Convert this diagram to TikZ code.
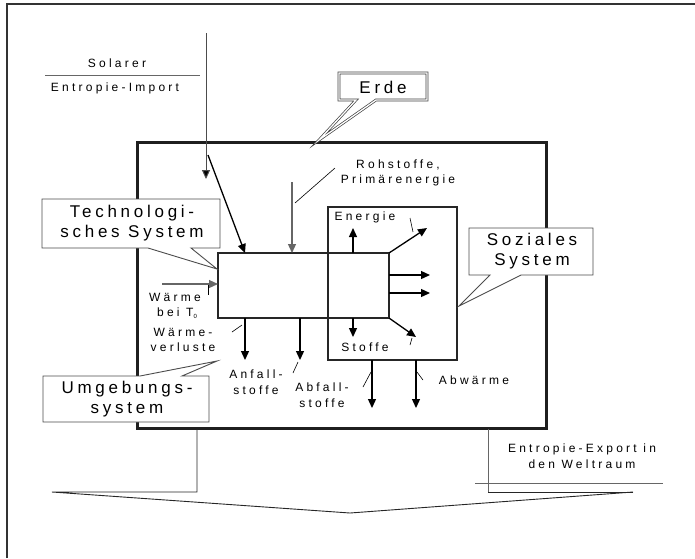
\documentclass[tikz,border=0pt]{standalone}
\usepackage{fontspec}
\setmainfont{Liberation Sans}
\newfontfamily\smallsp[LetterSpace=27]{Liberation Sans}
\newfontfamily\bigsp[LetterSpace=22]{Liberation Sans}
\usetikzlibrary{arrows.meta}
\tikzset{
  frameline/.style={draw=black!80, line width=1.8pt},
  earthbox/.style={draw=black!88, line width=3pt, minimum width=409pt, minimum height=286pt, inner sep=0pt, outer sep=0pt},
  sysbox/.style={draw=black!85, line width=2pt, inner sep=0pt, outer sep=0pt},
  arr/.style={draw=black, line width=1.3pt, -{Triangle[width=8pt,length=9pt]}},
  grayarr/.style={draw=black!60, line width=1.2pt, -{Triangle[width=8pt,length=9pt]}},
  solarline/.style={draw=black!70, line width=1pt, -{Triangle[width=8pt,length=9pt,fill=black]}},
  lead/.style={draw=black, line width=0.6pt},
  thin/.style={draw=black!85, line width=0.9pt},
  grayline/.style={draw=black!60, line width=1pt},
  callout/.style={draw=black!70, line width=0.9pt, fill=white},
  dcallout/.style={draw=black!75, line width=0.7pt, double=white, double distance=1.3pt, fill=white},
  small/.style={font=\smallsp\fontsize{12}{15.5}\selectfont, align=center, inner sep=0pt},
  big/.style={font=\bigsp\fontsize{17}{20}\selectfont, align=center, inner sep=0pt}
}
\begin{document}
\begin{tikzpicture}[x=1pt,y=-1pt]
\useasboundingbox (0,0) rectangle (695,558);
% outer frame
\draw[frameline] (7,558) -- (7,4) -- (695,4);

% Earth box
\node[earthbox] (earth) at (341.5,285) {};
% technological and social systems
\node[sysbox, minimum width=171pt, minimum height=65pt] (tech) at (303.5,285.5) {};
\node[sysbox, minimum width=129pt, minimum height=153pt] (soc) at (392.5,283.5) {};

% solar import
\node[small] (solarer) at (117,63) {Solarer};
\node[small] (entimp) at (115,88) {Entropie-Import};
\coordinate (sepA) at (45,75); \coordinate (sepB) at (200,75);
\draw[grayline] (sepA) -- (sepB);
\coordinate (solA) at (206,33); \coordinate (solB) at (206,179);
\draw[solarline] (solA) -- (solB);
\coordinate (diagA) at (208,155); \coordinate (techT1) at (245,253);
\draw[arr] (diagA) -- (techT1);

% raw materials
\node[small] (roh) at (398,173) {Rohstoffe,\\Primärenergie};
\coordinate (rohA) at (292,182); \coordinate (techT2) at (292,253);
\draw[grayarr] (rohA) -- (techT2);
\coordinate (rohL1) at (295,203); \coordinate (rohL2) at (335,168);
\draw[lead] (rohL1) -- (rohL2);

% heat input
\coordinate (waA) at (162,284); \coordinate (techW) at (218,284);
\draw[grayarr] (waA) -- (techW);
\coordinate (waL1) at (208,285); \coordinate (waL2) at (208,295);
\draw[lead] (waL1) -- (waL2);
\node[small] (waerme) at (175,297) {Wärme};
\node[small] (beit) at (177,313) {bei T\raisebox{-2pt}{\fontsize{6}{6}\selectfont 0}};

% outputs of technological system
\coordinate (tB1) at (245,318); \coordinate (tB1e) at (245,360);
\coordinate (tB2) at (300,318); \coordinate (tB2e) at (300,360);
\draw[arr] (tB1) -- (tB1e);
\draw[arr] (tB2) -- (tB2e);
\coordinate (wvL1) at (232,332); \coordinate (wvL2) at (242,325);
\draw[lead] (wvL1) -- (wvL2);
\coordinate (afL1) at (293,373); \coordinate (afL2) at (298,362);
\draw[lead] (afL1) -- (afL2);
\node[small] (wverl) at (183,340) {Wärme-\\verluste};
\node[small] (anfall) at (256,382) {Anfall-\\stoffe};
\node[small] (abfall) at (322,395) {Abfall-\\stoffe};

% social system flows
\coordinate (eA) at (353,253); \coordinate (eB) at (353,228);
\draw[arr] (eA) -- (eB);
\coordinate (tNE) at (389,253); \coordinate (eC) at (427,228);
\draw[arr] (tNE) -- (eC);
\coordinate (eL1) at (410,218); \coordinate (eL2) at (413,232);
\draw[lead] (eL1) -- (eL2);
\node[small] (energie) at (365,217) {Energie};
\coordinate (r1A) at (389,275); \coordinate (r1B) at (430,275);
\coordinate (r2A) at (389,293); \coordinate (r2B) at (430,293);
\draw[arr] (r1A) -- (r1B);
\draw[arr] (r2A) -- (r2B);
\coordinate (sA) at (353,318); \coordinate (sB) at (353,337);
\draw[arr] (sA) -- (sB);
\coordinate (tSE) at (389,318); \coordinate (sC) at (416,337);
\draw[arr] (tSE) -- (sC);
\coordinate (sL1) at (410,345); \coordinate (sL2) at (412,338);
\draw[lead] (sL1) -- (sL2);
\node[small] (stoffe) at (365,347) {Stoffe};

% outputs of social system
\coordinate (o1A) at (372,360); \coordinate (o1B) at (372,408);
\coordinate (o2A) at (416,360); \coordinate (o2B) at (416,408);
\draw[arr] (o1A) -- (o1B);
\draw[arr] (o2A) -- (o2B);
\coordinate (oL1) at (363,387); \coordinate (oL2) at (371,372);
\draw[lead] (oL1) -- (oL2);
\coordinate (oL3) at (417,372); \coordinate (oL4) at (423,380);
\draw[lead] (oL3) -- (oL4);
\node[small] (abw) at (474,380) {Abwärme};

% entropy export
\coordinate (exA) at (488,429); \coordinate (exB) at (488,492); \coordinate (exC) at (633,492);
\draw[grayline] (exA) -- (exB);
\draw[thin] (exB) -- (exC);
\coordinate (exL1) at (475,483); \coordinate (exL2) at (663,483);
\draw[grayline] (exL1) -- (exL2);
\node[small] (export) at (582,456) {Entropie-Export in\\den Weltraum};
\coordinate (lfA) at (197,429); \coordinate (lfB) at (197,492); \coordinate (lfC) at (52,492);
\coordinate (brk) at (350,513);
\draw[thin] (lfA) -- (lfB) -- (lfC) -- (brk) -- (exC);

% callouts
\draw[dcallout] (339,73) -- (427,73) -- (427,100) -- (376,100) -- (319,140) -- (356,100) -- (339,100) -- cycle;
\node[big] (erde) at (383,87) {Erde};

\draw[callout] (42,199) -- (220,199) -- (220,248) -- (191,248) -- (217,269) -- (148,248) -- (42,248) -- cycle;
\node[big] (techlab) at (132,223) {Technologi-\\sches System};

\draw[callout] (469,228) -- (593,228) -- (593,275) -- (521,275) -- (459,306) -- (490,275) -- (469,275) -- cycle;
\node[big] (soclab) at (532,251) {Soziales\\System};

\draw[callout] (43,376) -- (140,376) -- (217,361) -- (182,376) -- (209,376) -- (209,422) -- (43,422) -- cycle;
\node[big] (umglab) at (127,399) {Umgebungs-\\system};
\end{tikzpicture}
\end{document}
